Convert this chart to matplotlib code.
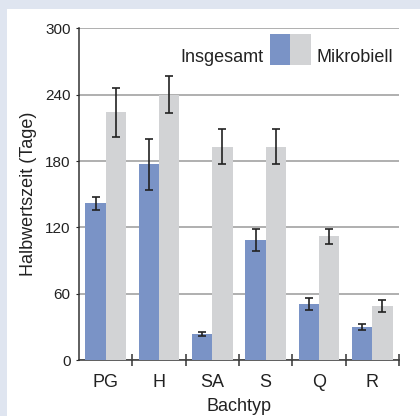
import matplotlib
matplotlib.use("Agg")
import matplotlib.pyplot as plt
from matplotlib.patches import Rectangle
import numpy as np

plt.rcParams['font.family'] = ['Liberation Sans', 'DejaVu Sans']

# Daten
kategorien = ['PG', 'H', 'SA', 'S', 'Q', 'R']
insgesamt = [142, 177, 24, 109, 51, 30]
insgesamt_err = [6, 23, 2, 10, 5.5, 2.7]
mikrobiell = [224, 240, 193, 193, 112, 49]
mikrobiell_err = [22, 16.5, 16, 16, 7, 5.7]

blau = '#7a93c6'
grau = '#d2d3d5'

fig = plt.figure(figsize=(4.2, 4.16), dpi=100)
fig.patch.set_facecolor('#dfe5f0')
# weisses Feld
fig.add_artist(Rectangle((7 / 420, 0), 1, (416 - 9) / 416, transform=fig.transFigure,
                         facecolor='white', edgecolor='none', zorder=-10))

ax = fig.add_axes([79 / 420, (416 - 360.3) / 416, 320 / 420, 332 / 416])
ax.set_facecolor('none')

x = np.arange(len(kategorien))
w = 0.38
ek = dict(ecolor='#222222', elinewidth=1.2, capsize=3, capthick=1.2)
ax.bar(x - w / 2, insgesamt, w, color=blau, yerr=insgesamt_err, error_kw=ek, zorder=3)
ax.bar(x + w / 2, mikrobiell, w, color=grau, yerr=mikrobiell_err, error_kw=ek, zorder=3)

ax.set_xlim(-0.5, 5.5)
ax.set_ylim(0, 300)
ax.set_yticks([0, 60, 120, 180, 240, 300])
ax.yaxis.grid(True, color='#9a9a9a', linewidth=1.1, zorder=1)
ax.set_axisbelow(True)

ax.set_xticks(x)
ax.set_xticklabels(kategorien, fontsize=13)
ax.set_xticks(x + 0.5, minor=True)
ax.tick_params(axis='x', which='major', length=0, pad=10, colors='#222222')
ax.tick_params(axis='x', which='minor', length=8, direction='inout', width=1.1, color='#333333')
ax.tick_params(axis='y', length=2, width=0.8, pad=4, labelsize=11, colors='#222222')

for s in ['top', 'right']:
    ax.spines[s].set_visible(False)
for s in ['left', 'bottom']:
    ax.spines[s].set_color('#333333')
    ax.spines[s].set_linewidth(1.1)

ax.set_xlabel('Bachtyp', fontsize=13, labelpad=5, color='#222222')
ax.set_ylabel('Halbwertszeit (Tage)', fontsize=13, labelpad=6, color='#222222')

# Legende
ax.add_patch(Rectangle((0.597, 0.889), 0.062, 0.094, transform=ax.transAxes,
                       facecolor=blau, edgecolor='none', clip_on=False, zorder=5))
ax.add_patch(Rectangle((0.659, 0.889), 0.066, 0.094, transform=ax.transAxes,
                       facecolor=grau, edgecolor='none', clip_on=False, zorder=5))
ax.text(0.577, 0.913, 'Insgesamt', transform=ax.transAxes, ha='right', va='center',
        fontsize=13, color='#222222')
ax.text(0.741, 0.913, 'Mikrobiell', transform=ax.transAxes, ha='left', va='center',
        fontsize=13, color='#222222')

fig.savefig('out.png', dpi=100, facecolor=fig.get_facecolor())
